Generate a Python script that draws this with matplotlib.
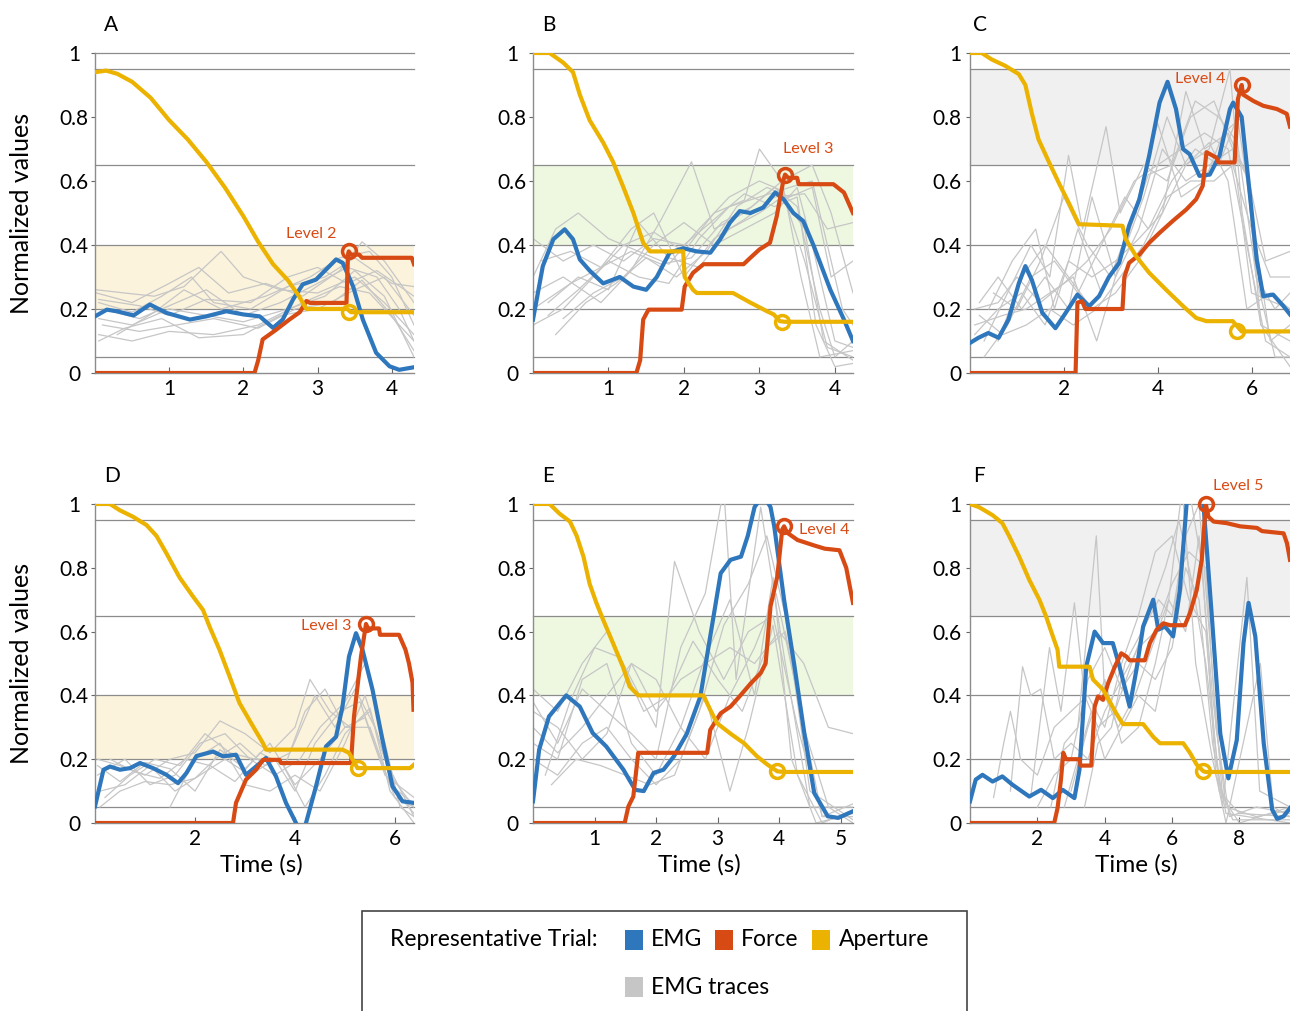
import matplotlib.pyplot as plt
from matplotlib.patches import Rectangle

plt.rcParams["font.family"] = ["Lato", "DejaVu Sans"]

BLUE = "#2f77bc"
RED = "#d84a14"
YELLOW = "#ecb200"
TRACE = "#c6c6c6"
RULE = "#8c8c8c"

BAND_YELLOW = "#fcf3dc"
BAND_GREEN = "#eef8e1"
BAND_GRAY = "#f0f0f0"

# boundaries between force levels, drawn as horizontal rules
level_lines = [0.05, 0.2, 0.4, 0.65, 0.95, 1.0]
y_ticks = [0, 0.2, 0.4, 0.6, 0.8, 1]
y_tick_labels = ["0", "0.2", "0.4", "0.6", "0.8", "1"]

# ---------------- panel A ----------------
emg_a = [(0, 0.177), (0.16, 0.198), (0.29, 0.193), (0.52, 0.18), (0.74, 0.214), (0.96, 0.188),
         (1.28, 0.167), (1.5, 0.177), (1.77, 0.193), (2.0, 0.183), (2.22, 0.177), (2.4, 0.141),
         (2.53, 0.167), (2.67, 0.23), (2.8, 0.277), (2.98, 0.292), (3.16, 0.334), (3.25, 0.355),
         (3.34, 0.344), (3.48, 0.27), (3.61, 0.167), (3.79, 0.063), (3.97, 0.021), (4.1, 0.01),
         (4.3, 0.018)]
force_a = [(0, 0), (2.15, 0), (2.2, 0.04), (2.26, 0.105), (2.44, 0.135), (2.62, 0.167),
           (2.76, 0.19), (2.85, 0.225), (2.9, 0.219), (3.39, 0.219), (3.41, 0.37), (3.42, 0.38),
           (3.45, 0.37), (3.56, 0.37), (3.6, 0.36), (4.27, 0.36), (4.3, 0.34)]
aperture_a = [(0, 0.94), (0.15, 0.945), (0.3, 0.935), (0.5, 0.91), (0.75, 0.86), (1.0, 0.79),
              (1.25, 0.73), (1.5, 0.66), (1.75, 0.58), (2.0, 0.49), (2.2, 0.41), (2.4, 0.34),
              (2.6, 0.29), (2.75, 0.24), (2.85, 0.2), (3.4, 0.2), (3.45, 0.19), (4.3, 0.19)]
traces_a = [
    [(0.02, 0.26), (0.4, 0.25), (0.8, 0.24), (1.2, 0.27), (1.7, 0.38), (2.0, 0.3), (2.5, 0.26),
     (3.0, 0.25), (3.5, 0.3), (3.9, 0.22), (4.3, 0.12)],
    [(0.02, 0.25), (0.5, 0.22), (1.0, 0.28), (1.4, 0.33), (1.8, 0.25), (2.3, 0.28), (2.8, 0.24),
     (3.3, 0.32), (3.6, 0.41), (3.9, 0.35), (4.3, 0.22)],
    [(0.05, 0.22), (0.5, 0.19), (0.9, 0.24), (1.3, 0.3), (1.6, 0.22), (2.1, 0.2), (2.6, 0.27),
     (3.1, 0.3), (3.5, 0.36), (4.0, 0.28), (4.3, 0.27)],
    [(0.1, 0.2), (0.6, 0.17), (1.1, 0.22), (1.5, 0.26), (2.0, 0.18), (2.5, 0.22), (3.0, 0.28),
     (3.4, 0.33), (3.8, 0.3), (4.1, 0.2), (4.3, 0.1)],
    [(0.05, 0.17), (0.5, 0.15), (1.0, 0.2), (1.5, 0.18), (2.0, 0.16), (2.6, 0.2), (3.1, 0.24),
     (3.5, 0.32), (3.9, 0.24), (4.3, 0.05)],
    [(0.1, 0.15), (0.6, 0.13), (1.1, 0.15), (1.6, 0.17), (2.2, 0.14), (2.7, 0.2), (3.2, 0.22),
     (3.6, 0.29), (4.0, 0.18), (4.3, 0.07)],
    [(0.05, 0.12), (0.5, 0.1), (1.0, 0.13), (1.6, 0.12), (2.2, 0.15), (2.8, 0.22), (3.3, 0.27),
     (3.7, 0.25), (4.1, 0.15), (4.3, 0.1)],
    [(0.05, 0.1), (0.4, 0.14), (0.9, 0.17), (1.4, 0.11), (2.0, 0.12), (2.5, 0.18), (3.0, 0.2),
     (3.5, 0.26), (3.9, 0.3), (4.3, 0.18)],
    [(0.3, 0.12), (0.8, 0.19), (1.2, 0.26), (1.7, 0.2), (2.3, 0.24), (2.9, 0.3), (3.3, 0.36),
     (3.7, 0.38), (4.0, 0.3), (4.3, 0.15)],
    [(0.05, 0.23), (0.6, 0.21), (1.0, 0.18), (1.5, 0.23), (2.1, 0.22), (2.6, 0.3), (3.0, 0.33),
     (3.4, 0.28), (3.8, 0.32), (4.3, 0.24)],
]

# ---------------- panel B ----------------
emg_b = [(0, 0.167), (0.13, 0.334), (0.27, 0.418), (0.42, 0.449), (0.53, 0.418), (0.62, 0.355),
         (0.75, 0.32), (0.93, 0.28), (1.15, 0.3), (1.33, 0.27), (1.5, 0.26), (1.64, 0.3),
         (1.81, 0.376), (1.99, 0.39), (2.17, 0.38), (2.35, 0.376), (2.48, 0.418), (2.61, 0.47),
         (2.74, 0.506), (2.88, 0.5), (3.05, 0.517), (3.21, 0.564), (3.32, 0.543), (3.45, 0.5),
         (3.58, 0.475), (3.72, 0.397), (3.94, 0.26), (4.12, 0.167), (4.24, 0.1)]
force_b = [(0, 0), (1.37, 0), (1.42, 0.04), (1.46, 0.167), (1.53, 0.198), (1.97, 0.198),
           (2.01, 0.27), (2.12, 0.313), (2.26, 0.34), (2.79, 0.34), (2.88, 0.36), (3.0, 0.386),
           (3.14, 0.407), (3.23, 0.49), (3.32, 0.605), (3.34, 0.62), (3.38, 0.61), (3.5, 0.61),
           (3.52, 0.59), (3.98, 0.59), (4.12, 0.564), (4.24, 0.5)]
aperture_b = [(0, 1.0), (0.22, 1.0), (0.4, 0.97), (0.53, 0.94), (0.62, 0.87), (0.75, 0.79),
              (0.93, 0.72), (1.06, 0.66), (1.19, 0.585), (1.33, 0.5), (1.46, 0.407), (1.55, 0.38),
              (1.99, 0.38), (2.01, 0.3), (2.12, 0.26), (2.17, 0.25), (2.65, 0.25), (2.88, 0.22),
              (3.1, 0.193), (3.19, 0.183), (3.27, 0.162), (3.34, 0.16), (4.24, 0.16)]
traces_b = [
    [(0.0, 0.3), (0.3, 0.45), (0.6, 0.5), (1.0, 0.42), (1.4, 0.38), (1.8, 0.34), (2.2, 0.45),
     (2.6, 0.55), (3.0, 0.6), (3.3, 0.57), (3.6, 0.35), (3.9, 0.08), (4.24, 0.05)],
    [(0.0, 0.15), (0.4, 0.2), (0.8, 0.3), (1.2, 0.4), (1.6, 0.44), (2.0, 0.38), (2.4, 0.5),
     (2.8, 0.54), (3.0, 0.7), (3.3, 0.6), (3.55, 0.3), (3.8, 0.05), (4.24, 0.07)],
    [(0.0, 0.25), (0.4, 0.3), (0.9, 0.22), (1.3, 0.32), (1.7, 0.48), (2.1, 0.66), (2.4, 0.45),
     (2.8, 0.5), (3.2, 0.58), (3.5, 0.52), (3.8, 0.2), (4.0, 0.05), (4.24, 0.1)],
    [(0.2, 0.18), (0.6, 0.26), (1.0, 0.35), (1.4, 0.3), (1.8, 0.28), (2.2, 0.42), (2.6, 0.52),
     (3.0, 0.55), (3.4, 0.58), (3.7, 0.6), (3.9, 0.4), (4.1, 0.2), (4.24, 0.15)],
    [(0.1, 0.35), (0.5, 0.38), (0.9, 0.33), (1.3, 0.45), (1.6, 0.5), (2.0, 0.3), (2.4, 0.42),
     (2.8, 0.48), (3.2, 0.55), (3.6, 0.56), (3.9, 0.45), (4.24, 0.47)],
    [(0.3, 0.12), (0.7, 0.22), (1.1, 0.28), (1.5, 0.36), (1.9, 0.3), (2.3, 0.38), (2.7, 0.52),
     (3.1, 0.58), (3.4, 0.55), (3.7, 0.58), (3.95, 0.3), (4.24, 0.35)],
    [(0.0, 0.42), (0.4, 0.35), (0.8, 0.4), (1.2, 0.35), (1.6, 0.42), (2.0, 0.4), (2.4, 0.48),
     (2.8, 0.56), (3.2, 0.52), (3.5, 0.55), (3.75, 0.15), (4.0, 0.02), (4.24, 0.03)],
    [(0.2, 0.22), (0.6, 0.3), (1.0, 0.26), (1.4, 0.47), (1.8, 0.36), (2.2, 0.33), (2.6, 0.45),
     (3.0, 0.5), (3.3, 0.55), (3.6, 0.45), (3.85, 0.1), (4.24, 0.04)],
    [(0.0, 0.2), (0.5, 0.28), (0.9, 0.33), (1.3, 0.38), (1.7, 0.34), (2.1, 0.36), (2.5, 0.47),
     (2.9, 0.52), (3.3, 0.6), (3.7, 0.65), (3.95, 0.5), (4.24, 0.25)],
    [(0.4, 0.17), (0.8, 0.25), (1.2, 0.3), (1.6, 0.4), (2.0, 0.47), (2.4, 0.4), (2.8, 0.45),
     (3.2, 0.5), (3.5, 0.58), (3.7, 0.4), (4.0, 0.1), (4.24, 0.08)],
]

# ---------------- panel C ----------------
emg_c = [(0, 0.094), (0.18, 0.11), (0.39, 0.125), (0.61, 0.11), (0.82, 0.167), (1.04, 0.28),
         (1.18, 0.334), (1.32, 0.29), (1.54, 0.188), (1.82, 0.14), (2.04, 0.188), (2.29, 0.245),
         (2.54, 0.209), (2.75, 0.24), (2.96, 0.3), (3.18, 0.344), (3.39, 0.46), (3.61, 0.543),
         (3.82, 0.68), (4.04, 0.845), (4.21, 0.91), (4.39, 0.825), (4.54, 0.7), (4.68, 0.684),
         (4.89, 0.616), (5.11, 0.62), (5.32, 0.68), (5.54, 0.825), (5.61, 0.845), (5.79, 0.8),
         (5.96, 0.564), (6.11, 0.355), (6.25, 0.24), (6.46, 0.245), (6.68, 0.209), (6.82, 0.183)]
force_c = [(0, 0), (2.25, 0), (2.29, 0.22), (2.39, 0.224), (2.46, 0.2), (3.25, 0.2), (3.29, 0.3),
           (3.39, 0.344), (3.61, 0.37), (3.82, 0.407), (4.04, 0.438), (4.32, 0.475), (4.61, 0.511),
           (4.82, 0.543), (4.96, 0.585), (5.04, 0.69), (5.25, 0.673), (5.29, 0.658), (5.64, 0.658),
           (5.71, 0.856), (5.79, 0.9), (5.82, 0.87), (6.04, 0.85), (6.25, 0.835), (6.54, 0.825),
           (6.75, 0.81), (6.82, 0.77)]
aperture_c = [(0, 1.0), (0.25, 1.0), (0.46, 0.98), (0.75, 0.96), (1.04, 0.934), (1.18, 0.9),
              (1.32, 0.81), (1.46, 0.73), (1.68, 0.66), (1.89, 0.595), (2.11, 0.53), (2.32, 0.465),
              (3.25, 0.46), (3.32, 0.418), (3.54, 0.365), (3.82, 0.313), (4.18, 0.26), (4.54, 0.209),
              (4.82, 0.172), (5.04, 0.162), (5.6, 0.162), (5.79, 0.13), (6.82, 0.13)]
traces_c = [
    [(0.1, 0.2), (0.6, 0.22), (1.0, 0.3), (1.5, 0.22), (2.0, 0.28), (2.5, 0.35), (3.0, 0.45),
     (3.5, 0.6), (4.0, 0.65), (4.5, 0.7), (5.0, 0.75), (5.5, 0.7), (5.9, 0.4), (6.3, 0.1), (6.82, 0.05)],
    [(0.3, 0.1), (0.8, 0.25), (1.3, 0.4), (1.7, 0.3), (2.1, 0.68), (2.4, 0.45), (2.9, 0.77),
     (3.2, 0.5), (3.7, 0.65), (4.2, 0.6), (4.7, 0.8), (5.2, 0.85), (5.6, 0.7), (6.0, 0.25), (6.82, 0.2)],
    [(0.1, 0.15), (0.7, 0.18), (1.2, 0.2), (1.7, 0.25), (2.2, 0.3), (2.7, 0.1), (3.2, 0.35),
     (3.7, 0.55), (4.2, 0.8), (4.6, 0.65), (5.1, 0.7), (5.54, 0.95), (5.8, 0.5), (6.2, 0.15), (6.82, 0.1)],
    [(0.4, 0.2), (0.9, 0.35), (1.4, 0.45), (1.8, 0.2), (2.3, 0.45), (2.8, 0.25), (3.3, 0.4),
     (3.8, 0.62), (4.3, 0.65), (4.8, 0.85), (5.3, 0.8), (5.7, 0.72), (6.1, 0.3), (6.5, 0.05), (6.82, 0.05)],
    [(0.2, 0.22), (0.6, 0.3), (1.1, 0.2), (1.6, 0.3), (2.1, 0.2), (2.6, 0.55), (3.1, 0.3),
     (3.6, 0.45), (4.1, 0.7), (4.6, 0.6), (5.1, 0.65), (5.6, 0.7), (5.95, 0.6), (6.3, 0.35), (6.82, 0.38)],
    [(0.3, 0.05), (0.8, 0.15), (1.3, 0.3), (1.8, 0.35), (2.3, 0.25), (2.8, 0.4), (3.3, 0.55),
     (3.8, 0.45), (4.3, 0.6), (4.8, 0.7), (5.3, 0.65), (5.7, 0.8), (6.0, 0.5), (6.4, 0.1), (6.82, 0.15)],
    [(0.5, 0.25), (1.0, 0.2), (1.5, 0.35), (2.0, 0.55), (2.5, 0.4), (3.0, 0.3), (3.5, 0.5),
     (4.0, 0.78), (4.5, 0.55), (5.0, 0.6), (5.4, 0.75), (5.8, 0.8), (6.1, 0.3), (6.5, 0.2), (6.82, 0.25)],
    [(0.2, 0.18), (0.7, 0.12), (1.2, 0.15), (1.7, 0.2), (2.2, 0.15), (2.7, 0.2), (3.2, 0.3),
     (3.7, 0.4), (4.2, 0.55), (4.7, 0.6), (5.2, 0.6), (5.6, 0.65), (6.0, 0.45), (6.4, 0.3), (6.82, 0.3)],
    [(0.6, 0.1), (1.1, 0.3), (1.6, 0.4), (2.1, 0.3), (2.6, 0.2), (3.1, 0.25), (3.6, 0.35),
     (4.1, 0.5), (4.6, 0.88), (5.0, 0.7), (5.5, 0.75), (5.9, 0.62), (6.2, 0.15), (6.82, 0.02)],
    [(0.1, 0.12), (0.6, 0.2), (1.1, 0.25), (1.6, 0.15), (2.1, 0.35), (2.6, 0.3), (3.1, 0.35),
     (3.6, 0.42), (4.1, 0.5), (4.6, 0.65), (5.1, 0.72), (5.5, 0.6), (5.9, 0.2), (6.4, 0.25), (6.82, 0.2)],
]

# ---------------- panel D ----------------
emg_d = [(0, 0.052), (0.17, 0.167), (0.3, 0.177), (0.5, 0.167), (0.7, 0.172), (0.9, 0.188),
         (1.16, 0.172), (1.43, 0.151), (1.66, 0.125), (1.83, 0.157), (2.03, 0.21), (2.36, 0.224),
         (2.56, 0.209), (2.82, 0.214), (3.02, 0.151), (3.22, 0.177), (3.42, 0.204), (3.62, 0.146),
         (3.82, 0.063), (4.02, 0.0), (4.12, -0.05), (4.22, 0.0), (4.42, 0.115), (4.62, 0.24),
         (4.82, 0.27), (4.95, 0.365), (5.08, 0.522), (5.22, 0.595), (5.35, 0.543), (5.55, 0.418),
         (5.75, 0.26), (5.95, 0.115), (6.15, 0.068), (6.38, 0.063)]
force_d = [(0, 0), (2.76, 0), (2.82, 0.063), (3.02, 0.136), (3.22, 0.167), (3.36, 0.198),
           (3.69, 0.198), (3.72, 0.188), (5.12, 0.188), (5.18, 0.334), (5.32, 0.522), (5.42, 0.624),
           (5.46, 0.61), (5.68, 0.61), (5.7, 0.59), (6.08, 0.59), (6.21, 0.543), (6.28, 0.5),
           (6.35, 0.44), (6.37, 0.355)]
aperture_d = [(0, 1.0), (0.3, 1.0), (0.5, 0.98), (0.76, 0.96), (1.03, 0.934), (1.23, 0.9),
              (1.43, 0.845), (1.69, 0.77), (1.96, 0.71), (2.16, 0.668), (2.29, 0.616), (2.49, 0.543),
              (2.69, 0.46), (2.89, 0.376), (3.16, 0.303), (3.36, 0.25), (3.42, 0.23), (4.95, 0.23),
              (5.08, 0.22), (5.15, 0.2), (5.25, 0.172), (5.42, 0.172), (6.3, 0.172), (6.38, 0.183)]
traces_d = [
    [(0.05, 0.2), (0.5, 0.18), (1.0, 0.15), (1.5, 0.2), (2.0, 0.22), (2.5, 0.32), (3.0, 0.28),
     (3.5, 0.22), (4.0, 0.3), (4.3, 0.45), (4.7, 0.35), (5.1, 0.3), (5.5, 0.35), (5.9, 0.15), (6.38, 0.05)],
    [(0.05, 0.15), (0.6, 0.2), (1.1, 0.12), (1.6, 0.15), (2.1, 0.25), (2.6, 0.28), (3.1, 0.2),
     (3.6, 0.15), (4.1, 0.2), (4.5, 0.3), (5.0, 0.38), (5.4, 0.5), (5.8, 0.25), (6.1, 0.05), (6.38, 0.02)],
    [(0.1, 0.1), (0.6, 0.12), (1.1, 0.18), (1.6, 0.1), (2.1, 0.15), (2.6, 0.2), (3.1, 0.15),
     (3.6, 0.2), (4.0, 0.1), (4.4, 0.25), (4.9, 0.35), (5.3, 0.38), (5.7, 0.2), (6.0, 0.08), (6.38, 0.05)],
    [(0.1, 0.05), (0.5, 0.1), (1.0, 0.13), (1.5, 0.12), (2.0, 0.14), (2.4, 0.2), (2.9, 0.25),
     (3.4, 0.18), (3.9, 0.22), (4.4, 0.4), (4.8, 0.3), (5.2, 0.42), (5.6, 0.3), (6.0, 0.1), (6.38, 0.03)],
    [(0.05, 0.18), (0.5, 0.13), (1.0, 0.19), (1.5, 0.17), (2.0, 0.1), (2.5, 0.23), (3.0, 0.17),
     (3.5, 0.25), (4.0, 0.12), (4.5, 0.2), (5.0, 0.3), (5.4, 0.33), (5.8, 0.15), (6.38, 0.08)],
    [(1.5, 0.05), (2.0, 0.2), (2.5, 0.25), (3.0, 0.12), (3.5, 0.1), (4.0, 0.15), (4.5, 0.1),
     (5.0, 0.25), (5.4, 0.4), (5.8, 0.2), (6.38, 0.02)],
    [(0.2, 0.08), (0.7, 0.15), (1.2, 0.2), (1.7, 0.18), (2.2, 0.28), (2.7, 0.22), (3.2, 0.2),
     (3.7, 0.2), (4.2, 0.05), (4.6, 0.15), (5.0, 0.28), (5.5, 0.36), (5.9, 0.1), (6.38, 0.0)],
    [(0.3, 0.2), (0.8, 0.16), (1.3, 0.14), (1.8, 0.2), (2.3, 0.18), (2.8, 0.13), (3.3, 0.22),
     (3.8, 0.18), (4.2, 0.35), (4.6, 0.42), (5.0, 0.3), (5.5, 0.3), (5.9, 0.12), (6.38, 0.06)],
]

# ---------------- panel E ----------------
emg_e = [(0, 0.068), (0.1, 0.23), (0.26, 0.334), (0.54, 0.4), (0.76, 0.365), (0.97, 0.282),
         (1.19, 0.24), (1.47, 0.167), (1.66, 0.104), (1.8, 0.1), (1.96, 0.157), (2.12, 0.167),
         (2.29, 0.209), (2.5, 0.28), (2.72, 0.397), (2.88, 0.585), (3.05, 0.783), (3.21, 0.825),
         (3.38, 0.835), (3.49, 0.9), (3.6, 0.99), (3.74, 1.03), (3.86, 0.99), (3.92, 0.93),
         (4.08, 0.7), (4.25, 0.49), (4.41, 0.28), (4.57, 0.094), (4.79, 0.021), (4.96, 0.016),
         (5.2, 0.037)]
force_e = [(0, 0), (1.49, 0), (1.55, 0.052), (1.63, 0.083), (1.71, 0.22), (2.83, 0.22),
           (2.88, 0.292), (3.05, 0.344), (3.21, 0.365), (3.38, 0.402), (3.54, 0.438), (3.7, 0.47),
           (3.78, 0.5), (3.86, 0.68), (3.97, 0.773), (4.05, 0.92), (4.08, 0.93), (4.13, 0.91),
           (4.3, 0.887), (4.57, 0.87), (4.74, 0.86), (4.98, 0.855), (5.09, 0.8), (5.14, 0.75),
           (5.2, 0.69)]
aperture_e = [(0, 1.0), (0.27, 1.0), (0.43, 0.97), (0.6, 0.945), (0.71, 0.9), (0.82, 0.835),
              (0.92, 0.75), (1.03, 0.69), (1.14, 0.637), (1.3, 0.564), (1.46, 0.49), (1.57, 0.428),
              (1.71, 0.4), (2.77, 0.4), (2.88, 0.355), (2.99, 0.313), (3.21, 0.28), (3.43, 0.25),
              (3.64, 0.209), (3.81, 0.183), (3.97, 0.162), (4.08, 0.16), (5.2, 0.16)]
traces_e = [
    [(0, 0.42), (0.4, 0.35), (0.8, 0.5), (1.2, 0.6), (1.6, 0.45), (2.0, 0.3), (2.3, 0.82),
     (2.7, 0.6), (3.1, 0.45), (3.5, 0.6), (3.9, 0.65), (4.3, 0.3), (4.7, 0.02), (5.2, 0.02)],
    [(0, 0.38), (0.4, 0.25), (0.8, 0.42), (1.2, 0.35), (1.6, 0.28), (2.0, 0.2), (2.4, 0.55),
     (2.8, 0.72), (3.1, 1.05), (3.3, 0.45), (3.7, 0.99), (4.1, 0.5), (4.5, 0.05), (5.2, 0.05)],
    [(0, 0.3), (0.4, 0.22), (0.8, 0.3), (1.2, 0.4), (1.6, 0.5), (2.0, 0.35), (2.4, 0.45),
     (2.8, 0.5), (3.2, 0.55), (3.6, 0.5), (4.0, 0.6), (4.4, 0.5), (4.8, 0.3), (5.2, 0.28)],
    [(0, 0.25), (0.4, 0.2), (0.8, 0.45), (1.2, 0.5), (1.6, 0.25), (2.0, 0.15), (2.4, 0.3),
     (2.8, 0.52), (3.2, 0.7), (3.6, 0.4), (3.9, 0.77), (4.2, 0.2), (4.6, 0.0), (5.2, 0.03)],
    [(0, 0.2), (0.4, 0.15), (0.8, 0.25), (1.2, 0.3), (1.6, 0.2), (2.0, 0.12), (2.4, 0.2),
     (2.8, 0.4), (3.2, 0.1), (3.5, 0.3), (3.9, 0.62), (4.3, 0.15), (4.7, 0.0), (5.2, 0.04)],
    [(0.2, 0.15), (0.6, 0.38), (1.0, 0.55), (1.4, 0.52), (1.8, 0.35), (2.2, 0.4), (2.6, 0.57),
     (3.0, 0.45), (3.4, 0.35), (3.8, 0.55), (4.1, 0.6), (4.4, 0.3), (4.8, 0.05), (5.2, 0.0)],
    [(0, 0.35), (0.4, 0.3), (0.8, 0.2), (1.2, 0.28), (1.6, 0.5), (2.0, 0.45), (2.4, 0.3),
     (2.8, 0.2), (3.2, 0.4), (3.6, 0.55), (3.95, 0.72), (4.3, 0.4), (4.7, 0.02), (5.2, 0.06)],
    [(0.3, 0.12), (0.7, 0.2), (1.1, 0.18), (1.5, 0.15), (1.9, 0.12), (2.3, 0.15), (2.7, 0.35),
     (3.1, 0.62), (3.5, 0.75), (3.8, 0.9), (4.1, 0.65), (4.5, 0.1), (5.2, 0.01)],
]

# ---------------- panel F ----------------
emg_f = [(0, 0.068), (0.17, 0.136), (0.37, 0.151), (0.67, 0.13), (0.96, 0.146), (1.26, 0.12),
         (1.76, 0.083), (2.11, 0.104), (2.46, 0.078), (2.75, 0.104), (3.1, 0.078), (3.25, 0.167),
         (3.45, 0.49), (3.7, 0.6), (3.95, 0.564), (4.24, 0.564), (4.44, 0.49), (4.74, 0.365),
         (4.94, 0.48), (5.14, 0.616), (5.44, 0.7), (5.59, 0.606), (5.79, 0.616), (6.03, 0.585),
         (6.23, 0.73), (6.43, 1.0), (6.6, 1.15), (6.8, 1.15), (6.93, 1.0), (7.18, 0.647),
         (7.43, 0.28), (7.67, 0.14), (7.92, 0.26), (8.12, 0.564), (8.27, 0.69), (8.47, 0.585),
         (8.72, 0.25), (8.97, 0.042), (9.12, 0.013), (9.31, 0.021), (9.5, 0.047)]
force_f = [(0, 0), (2.5, 0), (2.6, 0.047), (2.7, 0.136), (2.77, 0.22), (2.85, 0.2), (3.25, 0.2),
           (3.28, 0.18), (3.6, 0.18), (3.7, 0.365), (3.8, 0.397), (3.95, 0.386), (4.1, 0.438),
           (4.3, 0.49), (4.49, 0.532), (4.64, 0.522), (4.74, 0.51), (5.19, 0.51), (5.34, 0.564),
           (5.54, 0.606), (5.74, 0.626), (5.94, 0.62), (6.38, 0.62), (6.53, 0.658), (6.73, 0.73),
           (6.88, 0.825), (6.98, 0.97), (7.0, 1.0), (7.08, 0.96), (7.23, 0.945), (7.62, 0.94),
           (8.02, 0.93), (8.52, 0.925), (8.67, 0.915), (9.31, 0.908), (9.41, 0.877), (9.5, 0.825)]
aperture_f = [(0, 1.0), (0.27, 0.99), (0.67, 0.965), (0.96, 0.94), (1.16, 0.9), (1.46, 0.835),
              (1.76, 0.762), (2.06, 0.7), (2.26, 0.647), (2.46, 0.585), (2.6, 0.543), (2.65, 0.49),
              (3.55, 0.49), (3.65, 0.45), (3.95, 0.418), (4.34, 0.344), (4.54, 0.31), (5.14, 0.31),
              (5.44, 0.27), (5.64, 0.25), (6.33, 0.25), (6.53, 0.22), (6.73, 0.183), (6.93, 0.162),
              (7.0, 0.16), (9.5, 0.16)]
traces_f = [
    [(0.7, 0.08), (1.0, 0.25), (1.2, 0.35), (1.5, 0.2), (2.0, 0.15), (2.5, 0.3), (3.0, 0.35),
     (3.5, 0.4), (4.0, 0.3), (4.5, 0.5), (5.0, 0.65), (5.5, 0.85), (6.0, 0.9), (6.5, 0.7),
     (7.0, 0.6), (7.4, 0.1), (8.0, 0.03), (9.5, 0.02)],
    [(1.2, 0.1), (1.56, 0.49), (1.8, 0.4), (2.1, 0.42), (2.5, 0.2), (3.0, 0.25), (3.5, 0.2),
     (4.0, 0.35), (4.5, 0.45), (5.0, 0.55), (5.5, 0.6), (6.0, 0.75), (6.5, 0.85), (7.0, 0.8),
     (7.3, 0.3), (7.7, 0.02), (8.5, 0.05), (9.5, 0.03)],
    [(1.8, 0.08), (2.36, 0.55), (2.7, 0.35), (3.1, 0.69), (3.4, 0.4), (3.8, 0.3), (4.3, 0.35),
     (4.8, 0.5), (5.3, 0.65), (5.8, 0.8), (6.2, 0.95), (6.6, 0.75), (7.0, 0.5), (7.5, 0.05),
     (8.22, 0.77), (8.6, 0.1), (9.5, 0.05)],
    [(2.4, 0.05), (2.8, 0.25), (3.2, 0.3), (3.75, 0.9), (4.0, 0.4), (4.4, 0.3), (4.9, 0.4),
     (5.4, 0.55), (5.9, 0.7), (6.3, 1.05), (6.7, 0.5), (7.2, 0.2), (7.6, 0.0), (8.62, 0.5),
     (9.0, 0.05), (9.5, 0.02)],
    [(2.8, 0.05), (3.2, 0.2), (3.6, 0.35), (4.0, 0.2), (4.5, 0.3), (5.0, 0.4), (5.5, 0.35),
     (6.0, 0.6), (6.5, 1.05), (6.9, 0.8), (7.3, 0.15), (7.8, 0.01), (9.5, 0.01)],
    [(3.0, 0.1), (3.5, 0.3), (4.0, 0.45), (4.5, 0.25), (5.0, 0.3), (5.5, 0.5), (5.9, 0.7),
     (6.4, 0.6), (6.8, 0.9), (7.2, 0.4), (7.6, 0.05), (8.5, 0.02), (9.5, 0.04)],
    [(2.0, 0.05), (2.5, 0.15), (3.0, 0.2), (3.5, 0.45), (4.0, 0.55), (4.5, 0.42), (5.0, 0.5),
     (5.5, 0.45), (6.0, 0.55), (6.4, 0.8), (6.8, 0.7), (7.2, 0.25), (7.6, 0.03), (9.5, 0.0)],
    [(3.4, 0.05), (3.8, 0.25), (4.2, 0.3), (4.6, 0.5), (5.1, 0.6), (5.6, 0.7), (6.0, 0.65),
     (6.4, 0.9), (6.8, 1.0), (7.1, 0.6), (7.5, 0.08), (8.0, 0.0), (9.5, 0.05)],
]

# per-panel settings: letter, data, target band, level label, axis extent
panels = [
    dict(letter="A", emg=emg_a, force=force_a, aperture=aperture_a, traces=traces_a,
         peak=(3.42, 0.38), ap_mark=(3.42, 0.19), band=(0.2, 0.4, BAND_YELLOW),
         level="Level 2", level_xy=(2.92, 0.433), level_ha="center",
         xmax=4.3, xticks=[1, 2, 3, 4], box=(95, 53, 414, 373), ylab_center=True),
    dict(letter="B", emg=emg_b, force=force_b, aperture=aperture_b, traces=traces_b,
         peak=(3.34, 0.62), ap_mark=(3.3, 0.16), band=(0.4, 0.65, BAND_GREEN),
         level="Level 3", level_xy=(3.65, 0.70), level_ha="center",
         xmax=4.24, xticks=[1, 2, 3, 4], box=(533, 53, 853, 373), ylab_center=True),
    dict(letter="C", emg=emg_c, force=force_c, aperture=aperture_c, traces=traces_c,
         peak=(5.79, 0.9), ap_mark=(5.7, 0.13), band=(0.65, 0.95, BAND_GRAY),
         level="Level 4", level_xy=(5.45, 0.92), level_ha="right",
         xmax=6.82, xticks=[2, 4, 6], box=(970, 53, 1290, 373), ylab_center=False),
    dict(letter="D", emg=emg_d, force=force_d, aperture=aperture_d, traces=traces_d,
         peak=(5.42, 0.624), ap_mark=(5.25, 0.172), band=(0.2, 0.4, BAND_YELLOW),
         level="Level 3", level_xy=(5.12, 0.616), level_ha="right",
         xmax=6.38, xticks=[2, 4, 6], box=(95, 504, 414, 823), ylab_center=True),
    dict(letter="E", emg=emg_e, force=force_e, aperture=aperture_e, traces=traces_e,
         peak=(4.08, 0.93), ap_mark=(3.97, 0.162), band=(0.4, 0.65, BAND_GREEN),
         level="Level 4", level_xy=(4.33, 0.92), level_ha="left",
         xmax=5.2, xticks=[1, 2, 3, 4, 5], box=(533, 504, 853, 823), ylab_center=True),
    dict(letter="F", emg=emg_f, force=force_f, aperture=aperture_f, traces=traces_f,
         peak=(7.0, 1.0), ap_mark=(6.93, 0.162), band=(0.65, 0.95, BAND_GRAY),
         level="Level 5", level_xy=(7.97, 1.055), level_ha="center",
         xmax=9.5, xticks=[2, 4, 6, 8], box=(970, 504, 1290, 823), ylab_center=False),
]

W, H = 1290, 1011
fig = plt.figure(figsize=(W / 100, H / 100), dpi=100)


def xy(points):
    return [p[0] for p in points], [p[1] for p in points]


for i, p in enumerate(panels):
    x0, y0, x1, y1 = p["box"]
    ax = fig.add_axes([x0 / W, 1 - y1 / H, (x1 - x0) / W, (y1 - y0) / H])
    ax.set_xlim(0, p["xmax"])
    ax.set_ylim(0, 1)

    lo, hi, col = p["band"]
    ax.axhspan(lo, hi, color=col, lw=0, zorder=0)
    for yv in level_lines:
        ax.axhline(yv, color=RULE, lw=0.9, zorder=1, clip_on=False)

    for tr in p["traces"]:
        ax.plot(*xy(tr), color=TRACE, lw=0.9, zorder=2)
    ax.plot(*xy(p["emg"]), color=BLUE, lw=3, zorder=3, solid_joinstyle="round")
    ax.plot(*xy(p["force"]), color=RED, lw=3, zorder=4, solid_joinstyle="round")
    ax.plot(*xy(p["aperture"]), color=YELLOW, lw=3, zorder=5, solid_joinstyle="round")

    ax.plot(*p["peak"], "o", ms=10, mfc="none", mec=RED, mew=2.5, zorder=6, clip_on=False)
    ax.plot(*p["ap_mark"], "o", ms=10, mfc="none", mec=YELLOW, mew=2.5, zorder=6)
    ax.text(*p["level_xy"], p["level"], color=RED, fontsize=11.5, ha=p["level_ha"],
            va="center", zorder=7, clip_on=False)

    for side in ("top", "right"):
        ax.spines[side].set_visible(False)
    for side in ("left", "bottom"):
        ax.spines[side].set_color(RULE)
        ax.spines[side].set_linewidth(1)

    ax.set_xticks(p["xticks"])
    ax.set_xticklabels([str(t) for t in p["xticks"]])
    ax.set_yticks(y_ticks)
    ax.set_yticklabels(y_tick_labels)
    ax.tick_params(axis="x", direction="in", length=4, width=0.8, color="#666666",
                   labelsize=15, pad=4)
    if p["ylab_center"]:
        ax.tick_params(axis="y", direction="out", length=3, width=0.8, color="#666666",
                       labelsize=15, pad=12)
        for lab in ax.get_yticklabels():
            lab.set_horizontalalignment("center")
    else:
        ax.tick_params(axis="y", direction="out", length=3, width=0.8, color="#666666",
                       labelsize=15, pad=3)

    col_x = 0.01 if p["letter"] in "CF" else 0.028
    ax.text(col_x, 1.07, p["letter"], transform=ax.transAxes, fontsize=15,
            va="baseline", ha="left")

    if p["letter"] in "AD":
        ax.text(-0.229, 0.5, "Normalized values", transform=ax.transAxes, rotation=90,
                ha="center", va="center", fontsize=18)
    if i >= 3:
        ax.text(0.52, -0.132, "Time (s)", transform=ax.transAxes, ha="center",
                va="center", fontsize=17.5)

# legend box under the panels
fig.add_artist(Rectangle((362 / W, -0.01), 605 / W, 1 - 911 / H + 0.01,
                         transform=fig.transFigure, fill=False, edgecolor="#444444", lw=1.2))
fig.text(390 / W, 1 - 940 / H, "Representative Trial:", fontsize=16.5, va="center", ha="left")
legend_items = [("EMG", BLUE, 625, 651, 940), ("Force", RED, 715, 741, 940),
                ("Aperture", YELLOW, 812, 839, 940), ("EMG traces", TRACE, 625, 651, 987)]
for label, color, px, tx, cy in legend_items:
    fig.add_artist(Rectangle((px / W, 1 - (cy + 10) / H), 18 / W, 20 / H,
                             transform=fig.transFigure, color=color, lw=0))
    fig.text(tx / W, 1 - cy / H, label, fontsize=16.5, va="center", ha="left")

fig.savefig("out.png", dpi=100)
